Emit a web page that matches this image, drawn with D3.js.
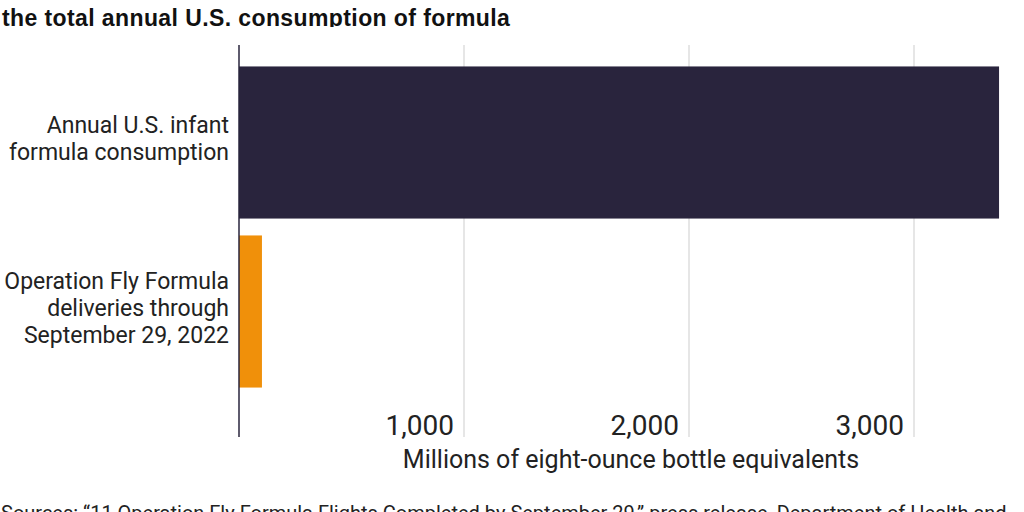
<!DOCTYPE html>
<html><head><meta charset="utf-8">
<script src="https://cdn.jsdelivr.net/npm/d3@7"></script>
<style>body{margin:0;background:#fff;}svg{display:block;}</style>
</head><body>
<svg id="c" width="1024" height="512"></svg>
<script>
const categories = [
  ["Annual U.S. infant", "formula consumption"],
  ["Operation Fly Formula", "deliveries through", "September 29, 2022"]
];
const values = [3378, 102];
const barColors = ["#29243d", "#f0900a"];
const tickValues = [1000, 2000, 3000];
const titleText = "the total annual U.S. consumption of formula";
const axisTitle = "Millions of eight-ounce bottle equivalents";
const sourceText = "Sources: \u201c11 Operation Fly Formula Flights Completed by September 29,\u201d press release, Department of Health and";

const font = "Roboto, 'Liberation Sans', sans-serif";
const svg = d3.select("#c");
const x0 = 239, plotTop = 45, plotBottom = 437;
const x = d3.scaleLinear().domain([0, 1000]).range([x0, x0 + 225]);
const y = d3.scaleBand().domain(d3.range(values.length)).range([58, 396]).paddingInner(0.1).paddingOuter(0.05);

// title (clipped)
svg.append("clipPath").attr("id","tc").append("rect").attr("x",0).attr("y",0).attr("width",1024).attr("height",27);
svg.append("text").attr("clip-path","url(#tc)").attr("x",2).attr("y",26)
  .attr("font-family", "'Liberation Sans', Arial, sans-serif").attr("font-weight","bold").attr("font-size",23)
  .attr("letter-spacing",0.4).attr("fill","#111").text(titleText);

// gridlines
svg.append("g").selectAll("line").data(tickValues).join("line")
  .attr("x1", d=>x(d)).attr("x2", d=>x(d)).attr("y1", plotTop).attr("y2", plotBottom)
  .attr("stroke","#e6e6e6").attr("stroke-width",2);

// bars
svg.append("g").selectAll("rect").data(values).join("rect")
  .attr("x", x(0)).attr("y", (d,i)=>y(i)).attr("width", d=>x(d)-x(0)).attr("height", y.bandwidth())
  .attr("fill", (d,i)=>barColors[i]);

// axis line
svg.append("line").attr("x1",x0).attr("x2",x0).attr("y1",plotTop).attr("y2",plotBottom)
  .attr("stroke","#29243d").attr("stroke-width",1.5);

// tick labels
svg.append("g").selectAll("text").data(tickValues).join("text")
  .attr("x", d=>x(d)-10).attr("y", 435).attr("text-anchor","end")
  .attr("font-family", font).attr("font-size",28).attr("fill","#222")
  .text(d=>d3.format(",")(d));

// axis title
svg.append("text").attr("x", 631).attr("y", 468).attr("text-anchor","middle")
  .attr("font-family", font).attr("font-size",25).attr("fill","#222").text(axisTitle);

// category labels
const lh = 27;
categories.forEach((lines,i)=>{
  const cy = y(i) + y.bandwidth()/2 - 4;
  const t = svg.append("text").attr("text-anchor","end").attr("font-family", font)
    .attr("font-size",23).attr("fill","#222");
  lines.forEach((ln,j)=>{
    t.append("tspan").attr("x",229).attr("y", cy - (lines.length-1)*lh/2 + j*lh + 8).text(ln);
  });
});

// source
svg.append("text").attr("x",1).attr("y",520).attr("font-family", font).attr("font-size",20)
  .attr("fill","#222").text(sourceText);
</script>
</body></html>
